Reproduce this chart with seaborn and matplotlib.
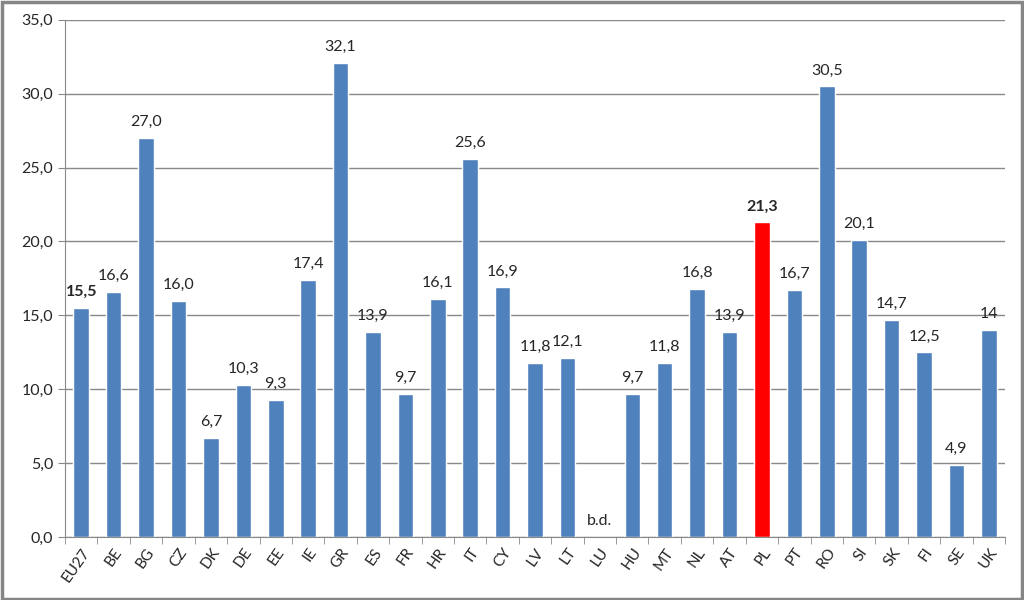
import matplotlib
matplotlib.use("Agg")
import matplotlib.pyplot as plt
import seaborn as sns
import pandas as pd
import numpy as np

countries = ['EU27', 'BE', 'BG', 'CZ', 'DK', 'DE', 'EE', 'IE', 'GR', 'ES', 'FR', 'HR', 'IT', 'CY',
             'LV', 'LT', 'LU', 'HU', 'MT', 'NL', 'AT', 'PL', 'PT', 'RO', 'SI', 'SK', 'FI', 'SE', 'UK']
values = [15.5, 16.6, 27.0, 16.0, 6.7, 10.3, 9.3, 17.4, 32.1, 13.9, 9.7, 16.1, 25.6, 16.9,
          11.8, 12.1, np.nan, 9.7, 11.8, 16.8, 13.9, 21.3, 16.7, 30.5, 20.1, 14.7, 12.5, 4.9, 14.0]
labels = ['15,5', '16,6', '27,0', '16,0', '6,7', '10,3', '9,3', '17,4', '32,1', '13,9', '9,7', '16,1',
          '25,6', '16,9', '11,8', '12,1', 'b.d.', '9,7', '11,8', '16,8', '13,9', '21,3', '16,7', '30,5',
          '20,1', '14,7', '12,5', '4,9', '14']
bold_labels = ['EU27', 'PL']

sns.set_style("white")
plt.rcParams['font.family'] = ['Lato', 'DejaVu Sans']

df = pd.DataFrame({'country': countries, 'value': values})
palette = ['#FF0000' if c == 'PL' else '#4F81BD' for c in countries]

fig = plt.figure(figsize=(10.24, 6), dpi=100)
ax = fig.add_axes([0.0635, 0.105, 0.918, 0.862])
sns.barplot(data=df, x='country', y='value', hue='country', palette=palette,
            legend=False, width=0.48, ax=ax, saturation=1)

ax.set_ylim(0, 35)
ax.set_yticks(np.arange(0, 36, 5))
ax.set_yticklabels([f"{v:.1f}".replace('.', ',') for v in np.arange(0, 36, 5)], fontsize=11.5)
ax.yaxis.grid(True, color='#898989', linewidth=1)
ax.set_axisbelow(True)
ax.set_xlim(-0.5, len(countries) - 0.5)
ax.set_xticks(range(len(countries)))
ax.set_xticklabels(countries, rotation=55, ha='right', rotation_mode='anchor', fontsize=11)
ax.set_xlabel('')
ax.set_ylabel('')
for s in ['top', 'right']:
    ax.spines[s].set_visible(False)
ax.spines['left'].set_color('#898989')
ax.spines['bottom'].set_color('#898989')
ax.tick_params(axis='y', length=5, color='#898989', left=True)
ax.tick_params(axis='x', length=0, pad=6)
# ticks between categories on x axis
ax.set_xticks(np.arange(-0.5, len(countries), 1), minor=True)
ax.tick_params(axis='x', which='minor', length=5, color='#898989', bottom=True)

for i, (v, lab) in enumerate(zip(values, labels)):
    y = 0 if np.isnan(v) else v
    weight = 'bold' if countries[i] in bold_labels else 'normal'
    ax.text(i, y + 0.6, lab, ha='center', va='bottom', fontsize=11.5, fontweight=weight)

fig.patches.append(plt.Rectangle((0.0015, 0.0025), 0.997, 0.995, transform=fig.transFigure,
                                 fill=False, edgecolor='#868686', linewidth=2.5))

fig.savefig('out.png', dpi=100)
